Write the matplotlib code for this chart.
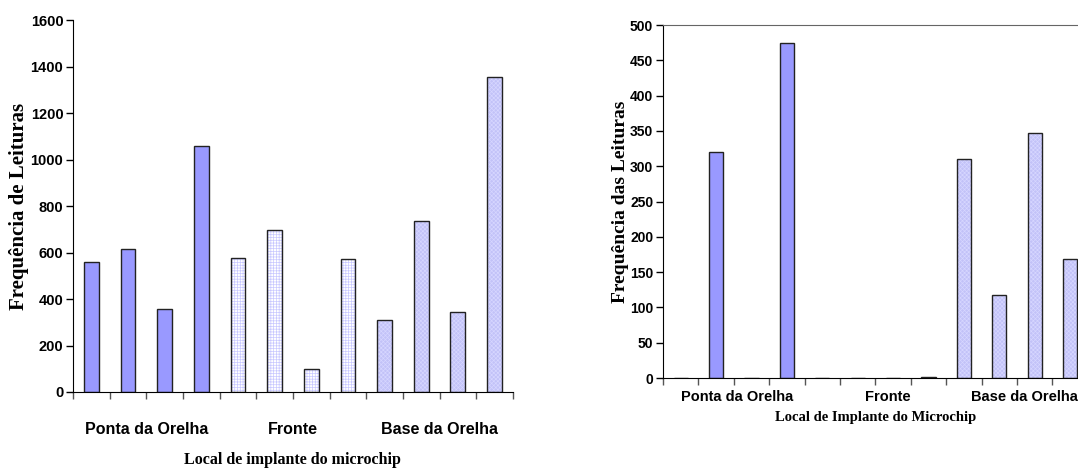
import matplotlib
matplotlib.use("Agg")
from matplotlib import pyplot as plt

# Leituras por local de implante (4 animais por local)
groups = ["Ponta da Orelha", "Fronte", "Base da Orelha"]
left_values = [560, 615, 355, 1060, 575, 695, 100, 570, 310, 735, 345, 1355]
right_values = [0, 320, 0, 474, 0, 0, 0, 1, 310, 117, 347, 168]
left_yticks = [0, 200, 400, 600, 800, 1000, 1200, 1400, 1600]
right_yticks = [0, 50, 100, 150, 200, 250, 300, 350, 400, 450, 500]

sans = ["Liberation Sans Narrow", "Liberation Sans", "DejaVu Sans"]
serif = ["Liberation Serif", "DejaVu Serif"]
plt.rcParams["hatch.linewidth"] = 0.5

# estilo de cada grupo: (cor de fundo, hachura, cor da hachura)
styles = [
    ("#9999FF", None, None),
    ("#FFFFFF", "++++++", "#C8C8FF"),
    ("#C2C2F8", "xxxxxxxx", "#D6D6FF"),
]


def draw_bars(ax, values):
    n = len(values)
    per_group = n // len(groups)
    for i, v in enumerate(values):
        face, hatch, hcolor = styles[i // per_group]
        if hatch:
            ax.bar(i, v, width=0.4, color=face, hatch=hatch,
                   edgecolor=hcolor, linewidth=0)
            ax.bar(i, v, width=0.4, fill=False, edgecolor="#222222",
                   linewidth=1.0)
        else:
            ax.bar(i, v, width=0.4, color=face, edgecolor="#222222",
                   linewidth=1.0)


def setup_axes(ax, values, yticks, tick_size, label_size, group_x, group_y,
               show_top):
    n = len(values)
    ax.set_xlim(-0.5, n - 0.5)
    ax.set_ylim(0, yticks[-1])
    ax.set_yticks(yticks)
    ax.set_xticks([i - 0.5 for i in range(n + 1)])
    ax.set_xticklabels([])
    for lab in ax.get_yticklabels():
        lab.set_family(sans)
        lab.set_fontweight("bold")
        lab.set_fontsize(tick_size)
    ax.tick_params(axis="y", direction="out", length=5, width=1, pad=2)
    ax.tick_params(axis="x", direction="out", length=5, width=1,
                   color="#555555")
    ax.spines["right"].set_visible(False)
    ax.spines["top"].set_visible(show_top)
    ax.spines["top"].set_color("#666666")
    for g, name in enumerate(groups):
        ax.text(group_x[g], group_y, name, transform=ax.get_xaxis_transform(),
                ha="center", va="center", family=sans, fontweight="bold",
                fontsize=label_size)


fig = plt.figure(figsize=(10.78, 4.72), dpi=100)

ax1 = fig.add_axes([0.0677, 0.1695, 0.408, 0.788])
draw_bars(ax1, left_values)
setup_axes(ax1, left_values, left_yticks, 10.5, 11.5, [1.5, 5.5, 9.5],
           -0.102, False)
ax1.set_ylabel("Frequência de Leituras", family=serif, fontweight="bold",
               fontsize=15)
ax1.yaxis.set_label_coords(-0.100, 0.5)
ax1.text(0.5, -0.183, "Local de implante do microchip",
         transform=ax1.transAxes, ha="center", va="center", family=serif,
         fontweight="bold", fontsize=11.5)

ax2 = fig.add_axes([0.615, 0.199, 0.394, 0.748])
draw_bars(ax2, right_values)
setup_axes(ax2, right_values, right_yticks, 10, 10.5, [1.6, 5.85, 9.7],
           -0.054, True)
ax2.set_ylabel("Frequência das Leituras", family=serif, fontweight="bold",
               fontsize=14)
ax2.yaxis.set_label_coords(-0.080, 0.5)
ax2.text(0.5, -0.113, "Local de Implante do Microchip",
         transform=ax2.transAxes, ha="center", va="center", family=serif,
         fontweight="bold", fontsize=10.5)

fig.savefig("out.png", dpi=100)
